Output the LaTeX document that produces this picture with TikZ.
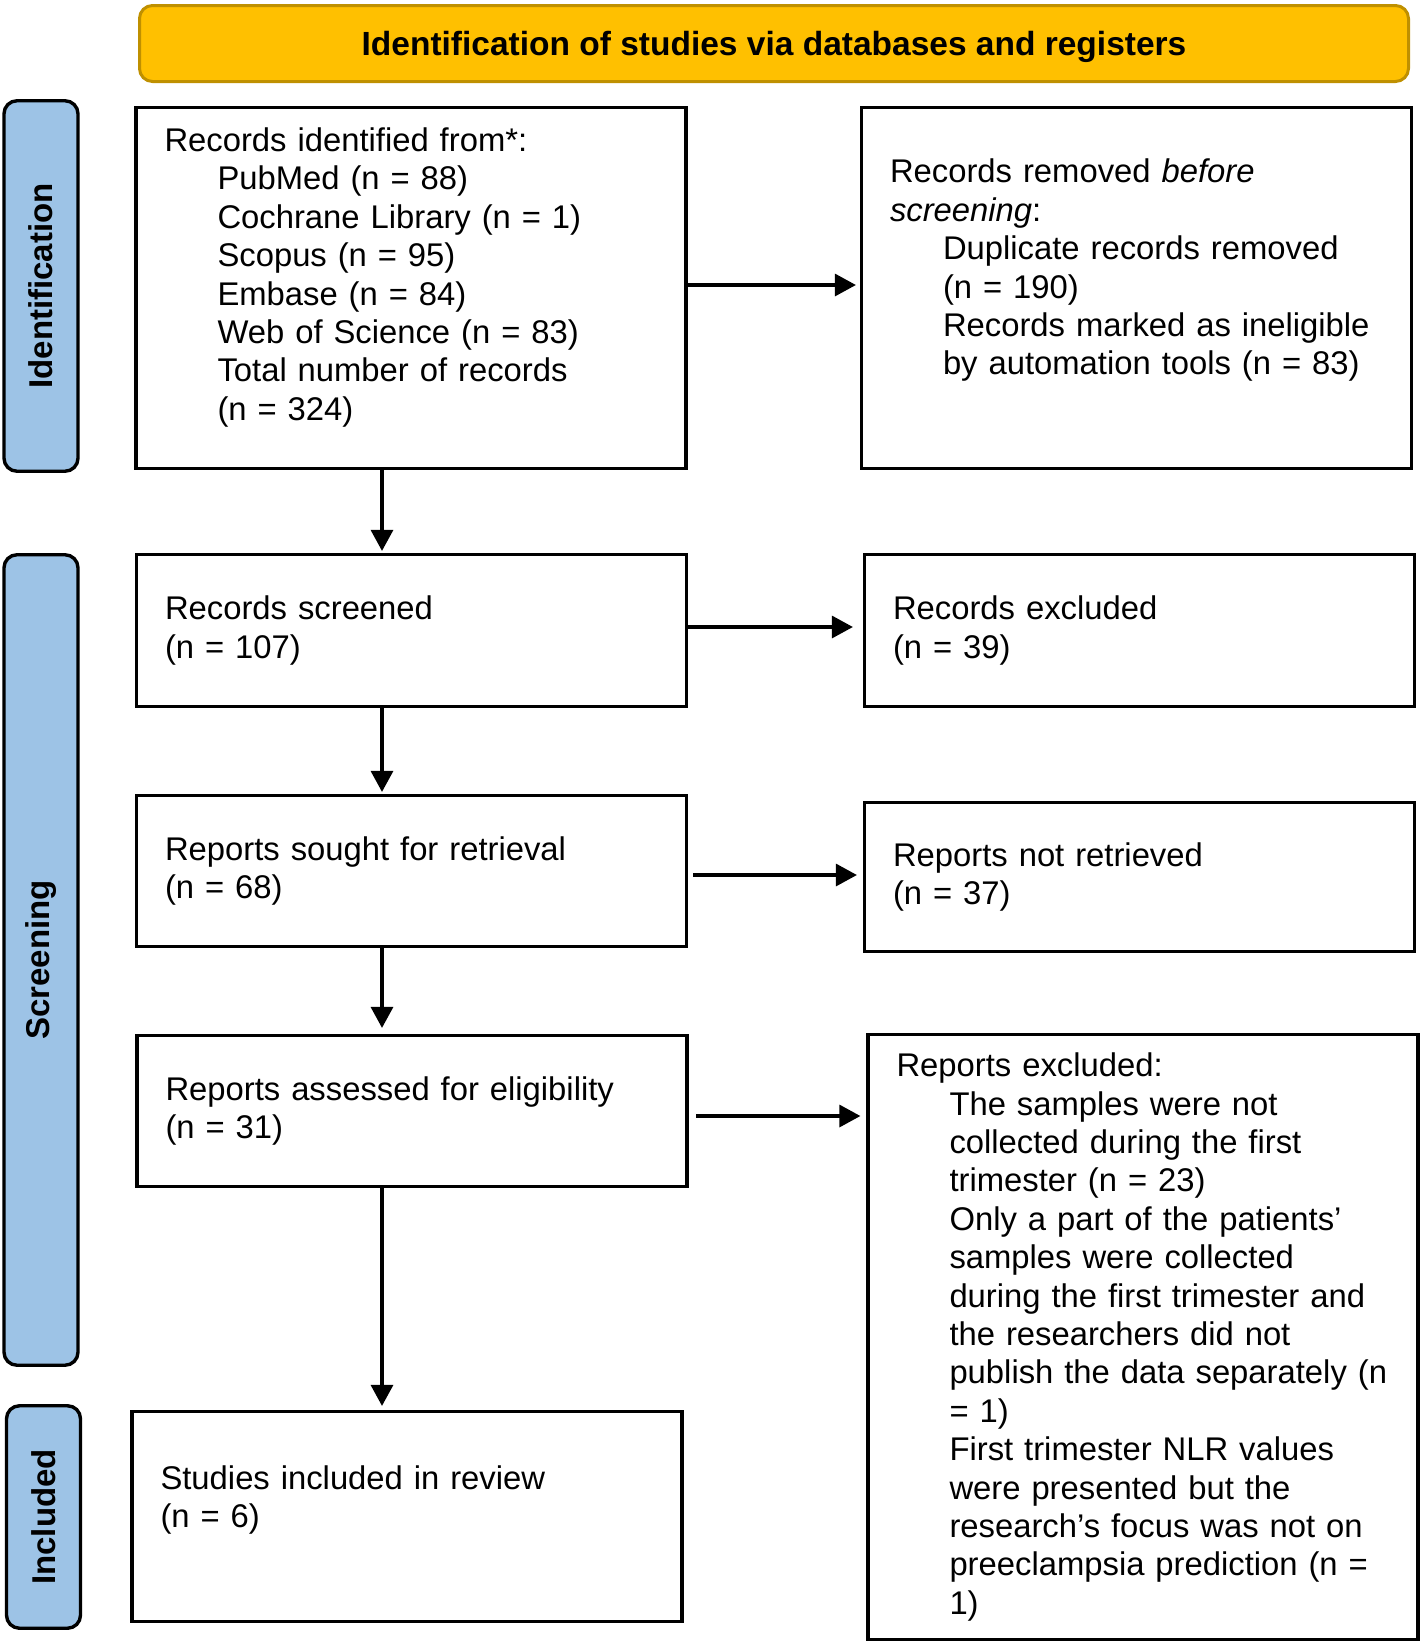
\documentclass[tikz,border=0pt]{standalone}
\usepackage{fontspec}
\setmainfont{Liberation Sans}
\usetikzlibrary{arrows.meta}
\definecolor{headgold}{HTML}{FFC000}
\definecolor{headedge}{HTML}{BF9000}
\definecolor{sideblue}{HTML}{9DC3E6}
\newcommand{\ind}{\hspace*{53pt}}
\newcommand{\boxpad}[1]{\rule[-#1]{0pt}{0pt}}

\begin{document}
\begin{tikzpicture}[x=1pt, y=-1pt,
		every node/.style={font=\fontsize{32.8pt}{38.4pt}\selectfont},
		headbox/.style={draw=headedge, fill=headgold, line width=3pt, rounded corners=13pt,
			minimum width=1269pt, minimum height=76pt, text depth=0pt,
			font=\fontsize{33.5pt}{38.4pt}\selectfont\bfseries},
		sidebox/.style={draw, line width=3.4pt, fill=sideblue, rounded corners=13pt,
			minimum height=74pt, rotate=90,
			font=\fontsize{33pt}{38.4pt}\selectfont\bfseries},
		flowbox/.style={draw, line width=3.2pt, inner xsep=28.5pt, inner ysep=0pt,
			minimum width=550pt, text width=493pt, align=left},
		flowarrow/.style={-{Triangle[length=21pt, width=22pt]}, line width=3.2pt}]
	\useasboundingbox (0,0) rectangle (1425,1642);
	% Header
	\node[headbox] (head) at (774,43.5) {Identification of studies via databases and registers};
	% Phase labels
	\node[sidebox, minimum width=370.5pt] (sideid) at (41,286) {Identification};
	\node[sidebox, minimum width=810.5pt] (sidescr) at (41,960) {Screening};
	\node[sidebox, minimum width=222.5pt] (sideinc) at (43.5,1517) {Included};
	% Left column
	\node[flowbox, minimum height=361pt] (ident) at (411,288) {Records identified from*:\\
		\ind PubMed (n = 88)\\
		\ind Cochrane Library (n = 1)\\
		\ind Scopus (n = 95)\\
		\ind Embase (n = 84)\\
		\ind Web of Science (n = 83)\\
		\ind Total number of records\\
		\ind (n = 324)\boxpad{28pt}};
	\node[flowbox, minimum height=152pt] (screened) at (411.5,630.5) {Records screened\\(n = 107)};
	\node[flowbox, minimum height=151pt] (sought) at (411.5,871) {Reports sought for retrieval\\(n = 68)};
	\node[flowbox, minimum height=151pt] (assessed) at (412,1111) {Reports assessed for eligibility\\(n = 31)};
	\node[flowbox, minimum height=210pt] (included) at (407,1516.5) {Studies included in review\\(n = 6)\boxpad{40pt}};
	% Right column
	\node[flowbox, minimum height=361pt] (removed) at (1136.5,288) {Records removed \textit{before}\\
		\textit{screening}:\\
		\ind Duplicate records removed\\
		\ind (n = 190)\\
		\ind Records marked as ineligible\\
		\ind by automation tools (n = 83)\boxpad{42pt}};
	\node[flowbox, minimum height=152pt] (excluded) at (1139.5,630.5) {Records excluded\\(n = 39)};
	\node[flowbox, minimum height=149pt] (notretr) at (1139.5,877) {Reports not retrieved\\(n = 37)};
	\node[flowbox, minimum height=605pt] (rexcl) at (1143,1337) {Reports excluded:\\
		\ind The samples were not\\
		\ind collected during the first\\
		\ind trimester (n = 23)\\
		\ind Only a part of the patients'\\
		\ind samples were collected\\
		\ind during the first trimester and\\
		\ind the researchers did not\\
		\ind \mbox{publish the data separately (n}\\
		\ind = 1)\\
		\ind First trimester NLR values\\
		\ind were presented but the\\
		\ind research's focus was not on\\
		\ind preeclampsia prediction (n =\\
		\ind 1)};
	% Draw arrows
	\coordinate (spine) at (382,0);
	\draw[flowarrow, shorten >=2pt] (ident.south -| spine) -- (screened.north -| spine);
	\draw[flowarrow, shorten >=2pt] (screened.south -| spine) -- (sought.north -| spine);
	\draw[flowarrow, shorten >=6pt] (sought.south -| spine) -- (assessed.north -| spine);
	\draw[flowarrow, shorten >=4pt] (assessed.south -| spine) -- (included.north -| spine);
	\draw[flowarrow, shorten >=4pt] ([yshift=3pt]ident.east) -- ([yshift=3pt]ident.east -| removed.west);
	\draw[flowarrow, shorten >=10pt] ([yshift=3.5pt]screened.east) -- ([yshift=3.5pt]screened.east -| excluded.west);
	\draw[flowarrow, shorten <=5pt, shorten >=6pt] ([yshift=-4pt]sought.east) -- ([yshift=-4pt]sought.east -| notretr.west);
	\draw[flowarrow, shorten <=7.5pt, shorten >=6pt] ([yshift=-5pt]assessed.east) -- ([yshift=-5pt]assessed.east -| rexcl.west);
\end{tikzpicture}
\end{document}
